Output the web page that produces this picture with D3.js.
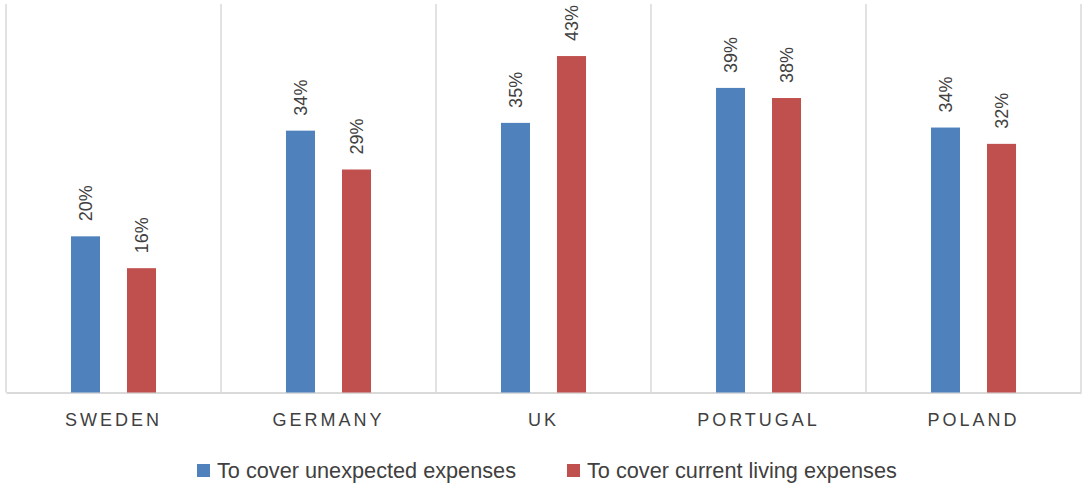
<!DOCTYPE html>
<html lang="en">
<head>
<meta charset="UTF-8">
<title>Reasons</title>
<script src="https://d3js.org/d3.v7.min.js"></script>
<style>
  body { margin: 0; background: #fff; }
  text { font-family: "Liberation Sans", Arial, sans-serif; fill: #404040; }
</style>
</head>
<body>
<div id="content"></div>
<script>
const countries = ["SWEDEN", "GERMANY", "UK", "PORTUGAL", "POLAND"];
const seriesNames = ["To cover unexpected expenses", "To cover current living expenses"];
const unexpected = [20.1, 33.7, 34.7, 39.2, 34.1];
const living = [16.0, 28.7, 43.3, 37.9, 32.0];
const colors = ["#4f81bd", "#c0504d"];

const width = 1084, height = 483;
const plot = { left: 6, right: 1081, top: 4, bottom: 392.5 };

const svg = d3.select("#content").append("svg")
    .attr("width", width)
    .attr("height", height);

const x = d3.scaleBand()
    .domain(countries)
    .range([plot.left, plot.right])
    .padding(0);

const xs = d3.scaleBand()
    .domain([0, 1])
    .range([0, x.bandwidth()])
    .paddingInner(0.482)
    .paddingOuter(1.16);

const y = d3.scaleLinear()
    .domain([0, 50])
    .range([plot.bottom, plot.top]);

// vertical separators between categories
const bounds = countries.map(c => x(c)).concat([plot.right]);
svg.append("g").selectAll("line")
    .data(bounds)
    .join("line")
    .attr("x1", d => d).attr("x2", d => d)
    .attr("y1", plot.top).attr("y2", plot.bottom)
    .attr("stroke", "#d9d9d9")
    .attr("stroke-width", 1.5);

// category axis
const xAxis = svg.append("g")
    .attr("transform", `translate(0,${plot.bottom})`)
    .call(d3.axisBottom(x).tickSize(0).tickPadding(21));
xAxis.select(".domain").attr("stroke", "#d9d9d9").attr("stroke-width", 2);
xAxis.selectAll("text")
    .attr("font-size", 18)
    .attr("font-family", "'Liberation Sans', Arial, sans-serif")
    .attr("fill", "#404040")
    .style("letter-spacing", "3px")
    .attr("dx", "0px");

const rows = countries.map((c, i) => ({ country: c, values: [unexpected[i], living[i]] }));

const groups = svg.append("g").selectAll("g")
    .data(rows)
    .join("g")
    .attr("transform", d => `translate(${x(d.country)},0)`);

groups.selectAll("rect")
    .data(d => d.values.map((v, k) => ({ k, v })))
    .join("rect")
    .attr("x", d => xs(d.k))
    .attr("width", xs.bandwidth())
    .attr("y", d => y(d.v))
    .attr("height", d => y(0) - y(d.v))
    .attr("fill", d => colors[d.k]);

groups.selectAll("text.lbl")
    .data(d => d.values.map((v, k) => ({ k, v })))
    .join("text")
    .attr("class", "lbl")
    .attr("transform", "rotate(-90)")
    .attr("x", d => -(y(d.v) - 15))
    .attr("y", d => xs(d.k) + xs.bandwidth() / 2)
    .attr("dy", "0.36em")
    .attr("font-size", 18)
    .text(d => Math.round(d.v) + "%");

// legend
const legendX = [197, 567];
const legend = svg.append("g").selectAll("g")
    .data(seriesNames)
    .join("g")
    .attr("transform", (d, i) => `translate(${legendX[i]},464)`);
legend.append("rect")
    .attr("width", 13).attr("height", 13)
    .attr("fill", (d, i) => colors[i]);
legend.append("text")
    .attr("x", 20)
    .attr("y", 14)
    .attr("font-size", 21.7)
    .text(d => d);
</script>
</body>
</html>
